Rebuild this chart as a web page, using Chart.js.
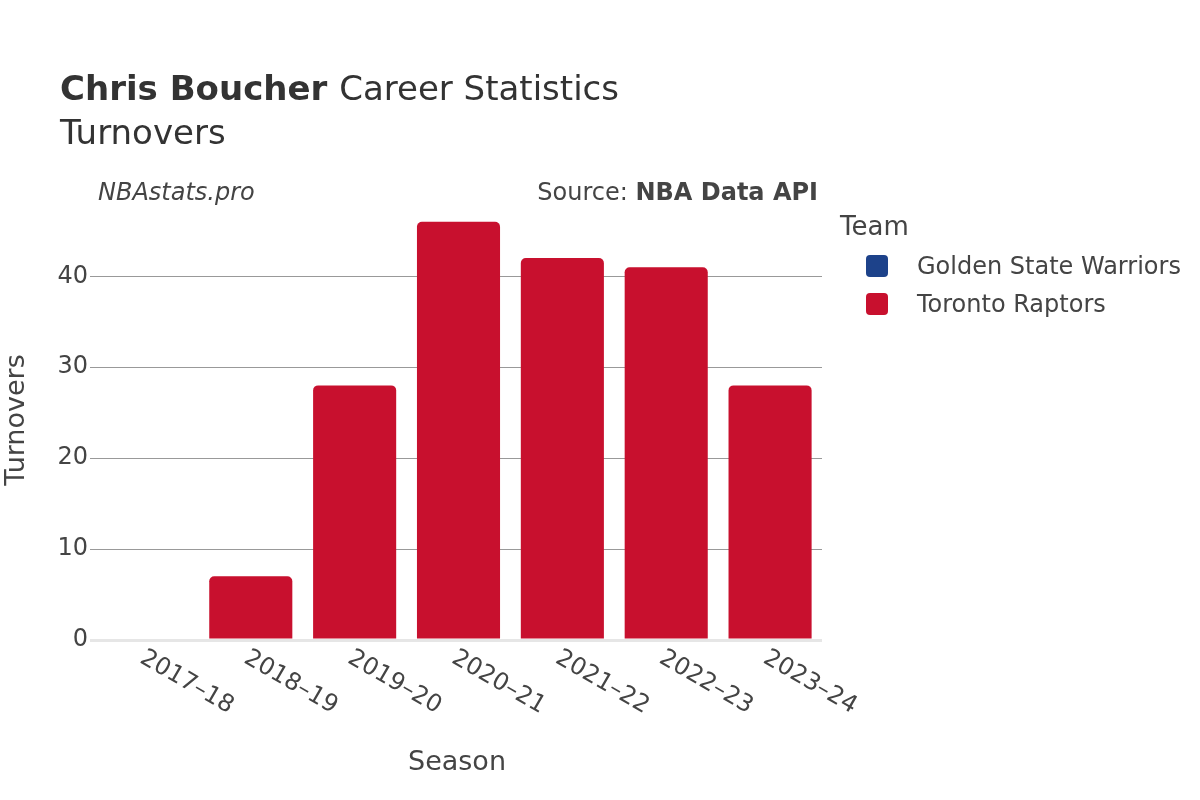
<!DOCTYPE html>
<html>
<head>
<meta charset="utf-8">
<script src="https://cdn.jsdelivr.net/npm/chart.js@4"></script>
<style>
  html, body { margin: 0; padding: 0; background: #fff; }
  #wrap { width: 1200px; height: 800px; }
</style>
</head>
<body>
<div id="wrap"><canvas id="chart" width="1200" height="800"></canvas></div>
<script>
const seasons = ["2017–18", "2018–19", "2019–20", "2020–21", "2021–22", "2022–23", "2023–24"];
const gswTurnovers = [0, null, null, null, null, null, null];
const torTurnovers = [null, 7, 28, 46, 42, 41, 28];
const yTicks = [0, 10, 20, 30, 40];
const teams = ["Golden State Warriors", "Toronto Raptors"];
const teamColors = ["#1D428A", "#C8102E"];

const FONT = "'DejaVu Sans', sans-serif";

const textPlugin = {
    id: "textLayer",
    afterDraw(chart) {
        const { ctx } = chart;
        const xScale = chart.scales.x;
        ctx.save();
        ctx.textBaseline = "alphabetic";

        // title
        ctx.fillStyle = "#333";
        ctx.textAlign = "left";
        ctx.font = `bold 34px ${FONT}`;
        ctx.fillText("Chris Boucher", 60, 100);
        const w = ctx.measureText("Chris Boucher ").width;
        ctx.font = `34px ${FONT}`;
        ctx.fillText("Career Statistics", 60 + w, 100);
        ctx.fillText("Turnovers", 60, 144);

        // credits
        ctx.fillStyle = "#444";
        ctx.font = `italic 24px ${FONT}`;
        ctx.fillText("NBAstats.pro", 98, 200);
        ctx.font = `bold 24px ${FONT}`;
        const boldW = ctx.measureText("NBA Data API").width;
        ctx.textAlign = "right";
        ctx.fillText("NBA Data API", 818, 200);
        ctx.font = `24px ${FONT}`;
        ctx.fillText("Source: ", 818 - boldW, 200);

        // axis titles
        ctx.fillStyle = "#444";
        ctx.textAlign = "center";
        ctx.font = `27px ${FONT}`;
        ctx.fillText("Season", 457, 770);
        ctx.save();
        ctx.translate(17, 420);
        ctx.rotate(-Math.PI / 2);
        ctx.textBaseline = "middle";
        ctx.fillText("Turnovers", 0, 0);
        ctx.restore();

        // x tick labels, rotated 30deg clockwise
        ctx.font = `24px ${FONT}`;
        ctx.textAlign = "left";
        ctx.textBaseline = "top";
        seasons.forEach((s, i) => {
            const px = xScale.getPixelForValue(i);
            ctx.save();
            ctx.translate(px + 1, 646);
            ctx.rotate(Math.PI / 6);
            ctx.fillText(s, 0, 0);
            ctx.restore();
        });

        // legend
        ctx.textBaseline = "middle";
        ctx.fillStyle = "#444";
        ctx.font = `26px ${FONT}`;
        ctx.fillText("Team", 840, 228);
        ctx.font = `24px ${FONT}`;
        teams.forEach((t, i) => {
            const cy = 266 + i * 38;
            ctx.fillStyle = teamColors[i];
            ctx.beginPath();
            ctx.roundRect(866, cy - 11, 22, 22, 4);
            ctx.fill();
            ctx.fillStyle = "#444";
            ctx.fillText(t, 917, cy + 2);
        });
        ctx.restore();
    }
};

new Chart(document.getElementById("chart"), {
    type: "bar",
    data: {
        labels: seasons,
        datasets: [
            { label: teams[0], data: gswTurnovers, backgroundColor: teamColors[0], borderRadius: 5, borderSkipped: "start" },
            { label: teams[1], data: torTurnovers, backgroundColor: teamColors[1], borderRadius: 5, borderSkipped: "start" }
        ]
    },
    options: {
        responsive: false,
        animation: false,
        layout: { padding: { left: 0, right: 378, top: 209, bottom: 0 } },
        datasets: { bar: { barPercentage: 0.8, categoryPercentage: 1 } },
        plugins: { legend: { display: false }, tooltip: { enabled: false }, title: { display: false } },
        scales: {
            x: {
                stacked: true,
                grid: { display: false },
                border: { display: false },
                ticks: { display: false },
                afterFit(scale) { scale.height = 160; }
            },
            y: {
                stacked: true,
                min: 0,
                max: 47.4,
                border: { display: false },
                grid: {
                    color: ctx => ctx.tick && ctx.tick.value === 0 ? "#e6e6e6" : "#999",
                    lineWidth: ctx => ctx.tick && ctx.tick.value === 0 ? 3 : 1,
                    tickLength: 5,
                    tickColor: ctx => ctx.tick && ctx.tick.value === 0 ? "#e6e6e6" : "#999"
                },
                ticks: { color: "#444", font: { family: FONT, size: 24 }, padding: 2 },
                afterBuildTicks(scale) { scale.ticks = yTicks.map(v => ({ value: v })); },
                afterFit(scale) { scale.width = 95; }
            }
        }
    },
    plugins: [textPlugin]
});
</script>
</body>
</html>
